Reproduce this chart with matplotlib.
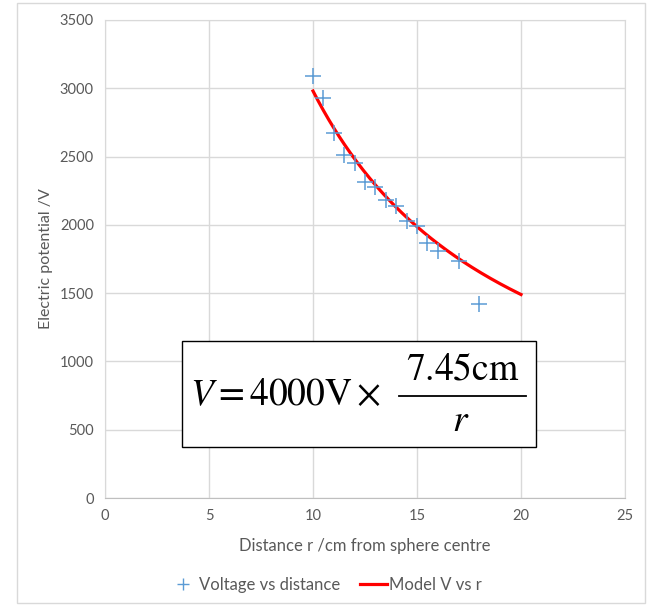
import numpy as np
import matplotlib.pyplot as plt
from matplotlib.lines import Line2D
from matplotlib.patches import Rectangle

# measured data
r_cm = [10, 10.5, 11, 11.5, 12, 12.5, 13, 13.5, 14, 14.5, 15, 15.5, 16, 17, 18]
volts = [3090, 2930, 2675, 2515, 2450, 2315, 2280, 2185, 2135, 2030, 1995, 1865, 1810, 1735, 1420]

# model V = V0 * a / r
V0 = 4000
a_cm = 7.45
r_model_range = (10, 20)

grid_c = '#d9d9d9'
text_c = '#595959'
font = ['Lato', 'DejaVu Sans']

plt.rcParams['mathtext.fontset'] = 'stix'

fig = plt.figure(figsize=(6.52, 6.06), dpi=100)
W, H = 652, 606


def fx(px):
    return px / W


def fy(py):
    return 1 - py / H


ax = fig.add_axes([fx(105), fy(498), 520 / W, 478 / H])

ax.scatter(r_cm, volts, marker='+', s=130, linewidths=1.1, color='#5b9bd5', zorder=3)
r_fit = np.linspace(*r_model_range, 200)
ax.plot(r_fit, V0 * a_cm / r_fit, color='#ff0000', lw=2.3, zorder=2)

ax.set_xlim(0, 25)
ax.set_ylim(0, 3500)
ax.set_xticks(range(0, 26, 5))
ax.set_yticks(range(0, 3501, 500))
ax.grid(True, color=grid_c, lw=1)
ax.set_axisbelow(True)
for s in ['top', 'right', 'left']:
    ax.spines[s].set_color(grid_c)
ax.spines['bottom'].set_color('#bfbfbf')
ax.tick_params(length=0, colors=text_c, labelsize=10.5, pad=8)
for lab in ax.get_xticklabels() + ax.get_yticklabels():
    lab.set_family(font)

ax.set_xlabel('Distance r /cm from sphere centre', color=text_c, fontsize=12,
              family=font, labelpad=11)
ax.set_ylabel('Electric potential /V', color=text_c, fontsize=11.5,
              family=font, labelpad=5)

# formula box
fig.patches.append(Rectangle((fx(182), fy(447)), (536 - 182) / W, (447 - 341) / H,
                             transform=fig.transFigure, facecolor='white',
                             edgecolor='black', lw=1, zorder=5))
fsz = 27
fig.text(fx(381), fy(405), r'$V = 4000\mathrm{V}\times$', fontsize=fsz,
         ha='right', va='baseline', zorder=6)
fig.text(fx(463), fy(380), r'$7.45\mathrm{cm}$', fontsize=fsz,
         ha='center', va='baseline', zorder=6)
fig.text(fx(461), fy(431), r'$r$', fontsize=fsz,
         ha='center', va='baseline', zorder=6)
fig.add_artist(Line2D([fx(399), fx(526)], [fy(395.5), fy(395.5)], color='black',
                      lw=1.3, transform=fig.transFigure, zorder=6))

# legend
handles = [
    Line2D([0], [0], marker='+', color='#5b9bd5', lw=0, markersize=9, markeredgewidth=1.0,
           label='Voltage vs distance'),
    Line2D([0], [0], color='#ff0000', lw=2.3, label='Model V vs r'),
]
leg = fig.legend(handles=handles, loc='center', bbox_to_anchor=(0.5, fy(585)), ncol=2,
                 frameon=False, prop={'family': font, 'size': 12}, handlelength=1.6,
                 columnspacing=1.2, handletextpad=0.15)
for t in leg.get_texts():
    t.set_color(text_c)

# outer chart border
fig.patches.append(Rectangle((fx(17), 3 / H), 628 / W, 600 / H, transform=fig.transFigure,
                             facecolor='none', edgecolor=grid_c, lw=1))

fig.savefig('out.png', dpi=100)
